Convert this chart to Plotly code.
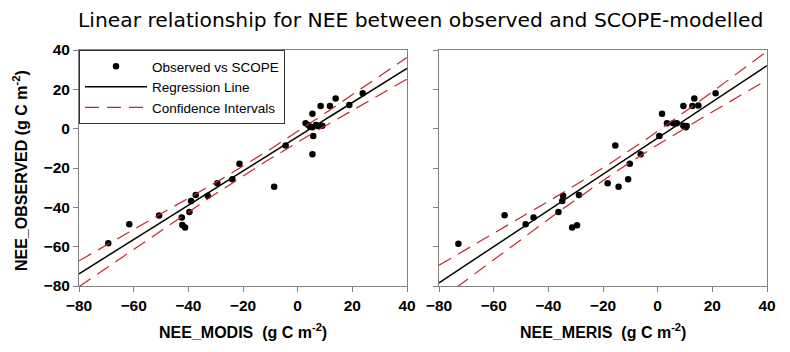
import numpy as np
import plotly.graph_objects as go

# ---- data ----
modis_x = [-69.3, -61.6, -50.7, -42.4, -42.2, -41.2, -39.6, -39.0, -37.3, -32.9,
           -29.4, -23.9, -21.3, -8.6, -4.4, 2.9, 3.9, 4.5, 5.4, 6.7,
           7.4, 9.0, 5.4, 5.7, 5.4, 8.4, 11.8, 13.9, 18.9, 23.8]
modis_obs = [-58.3, -48.6, -44.2, -45.2, -49.0, -50.3, -42.4, -36.8, -33.7, -34.1,
             -27.8, -25.7, -17.8, -29.5, -8.5, 2.7, 1.9, 1.0, 0.7, 1.9,
             1.4, 1.5, 7.6, -3.7, -13.0, 11.5, 11.5, 15.4, 12.0, 18.0]

meris_x = [-72.9, -56.0, -48.3, -45.4, -36.3, -34.6, -34.9, -31.3, -29.5, -28.8,
           -18.3, -15.5, -14.3, -10.8, -10.2, -6.2, 0.6, 1.6, 3.4, 5.7,
           7.0, 9.4, 9.4, 10.3, 10.6, 12.7, 13.4, 14.9, 21.2]
meris_obs = [-58.5, -44.0, -48.6, -45.2, -42.4, -34.1, -36.8, -50.3, -49.1, -33.7,
             -27.8, -8.5, -29.5, -25.7, -17.8, -13.0, -3.7, 7.6, 2.7, 2.7,
             2.7, 11.5, 1.5, 0.7, 1.4, 11.5, 15.4, 11.8, 18.0]

tick_vals = [-80, -60, -40, -20, 0, 20, 40]
axis_range = [-80, 40]
T_CRIT = 2.05  # 95% two-sided t value (n-2 ~ 28 df)

title_text = "Linear relationship for NEE between observed and SCOPE-modelled"
y_title = "NEE_OBSERVED (g C m<sup>-2</sup>)"
x_titles = ["NEE_MODIS  (g C m<sup>-2</sup>)", "NEE_MERIS  (g C m<sup>-2</sup>)"]
legend_names = ["Observed vs SCOPE", "Regression Line", "Confidence Intervals"]


def fit(x, y):
    x = np.asarray(x, float)
    y = np.asarray(y, float)
    n = len(x)
    b, a = np.polyfit(x, y, 1)
    resid = y - (a + b * x)
    s = np.sqrt(np.sum(resid ** 2) / (n - 2))
    xm = x.mean()
    sxx = np.sum((x - xm) ** 2)
    xs = np.linspace(axis_range[0], axis_range[1], 121)
    yh = a + b * xs
    hw = T_CRIT * s * np.sqrt(1.0 / n + (xs - xm) ** 2 / sxx)
    return xs, yh, yh - hw, yh + hw


fig = go.Figure()
RED = "#c0282d"
panels = [(modis_x, modis_obs, "x", "y"), (meris_x, meris_obs, "x2", "y2")]
for i, (px, py, xa, ya) in enumerate(panels):
    xs, yh, lo, hi = fit(px, py)
    show = i == 0
    fig.add_trace(go.Scatter(x=px, y=py, mode="markers", xaxis=xa, yaxis=ya,
                             marker=dict(color="black", size=6.5, symbol="circle"),
                             name=legend_names[0], showlegend=show, legendrank=1))
    fig.add_trace(go.Scatter(x=xs, y=yh, mode="lines", xaxis=xa, yaxis=ya,
                             line=dict(color="black", width=1.5),
                             name=legend_names[1], showlegend=show, legendrank=2))
    fig.add_trace(go.Scatter(x=xs, y=hi, mode="lines", xaxis=xa, yaxis=ya,
                             line=dict(color=RED, width=1.2, dash="14px,8px"),
                             name=legend_names[2], showlegend=show, legendrank=3))
    fig.add_trace(go.Scatter(x=xs, y=lo, mode="lines", xaxis=xa, yaxis=ya,
                             line=dict(color=RED, width=1.2, dash="14px,8px"),
                             name=legend_names[2], showlegend=False))

# page body adds an 8px offset; figure coordinates below are screen px - 8
OFF = 8
W, H = 790 - OFF, 352 - OFF
x1 = [(79 - OFF) / W, (407 - OFF) / W]
x2 = [(439 - OFF) / W, (767 - OFF) / W]
ydom = [(H - (286 - OFF)) / H, (H - (50 - OFF)) / H]

TICKFONT = dict(family="Liberation Sans, Arial", size=15.5, color="black", weight="bold")
TITLEFONT = dict(family="Liberation Sans, Arial", size=16, color="black", weight="bold")

common = dict(range=axis_range, tickvals=tick_vals, showgrid=False, zeroline=False,
              showline=True, linecolor="#808080", linewidth=1, mirror=True,
              ticks="outside", ticklen=5, tickcolor="#808080", tickfont=TICKFONT,
              automargin=False)

fig.update_layout(
    width=W, height=H,
    margin=dict(l=0, r=0, t=0, b=0, autoexpand=False),
    paper_bgcolor="white", plot_bgcolor="white",
    showlegend=True,
    legend=dict(x=x1[0], y=ydom[1], xanchor="left", yanchor="top",
                bgcolor="white", bordercolor="#333333", borderwidth=1,
                font=dict(family="Liberation Sans, Arial", size=13.5, color="black"),
                tracegroupgap=0, itemwidth=62),
    xaxis=dict(domain=x1, anchor="y", **common),
    yaxis=dict(domain=ydom, anchor="x", **common),
    xaxis2=dict(domain=x2, anchor="y2", **common),
    yaxis2=dict(domain=ydom, anchor="x2", showticklabels=False, **common),
    annotations=[
        dict(text=title_text, x=(76 - OFF) / W, y=1 - (34 - OFF) / H, xref="paper",
             yref="paper", xanchor="left", yanchor="bottom", showarrow=False,
             font=dict(family="DejaVu Sans, Verdana", size=20.3, color="black")),
        dict(text=y_title, x=(20 - OFF) / W, y=(H - (171 - OFF)) / H, xref="paper",
             yref="paper", textangle=-90, xanchor="center", yanchor="middle",
             showarrow=False, font=TITLEFONT),
        dict(text=x_titles[0], x=(x1[0] + x1[1]) / 2, y=1 - (331 - OFF) / H,
             xref="paper", yref="paper", xanchor="center", yanchor="middle",
             showarrow=False, font=TITLEFONT),
        dict(text=x_titles[1], x=(x2[0] + x2[1]) / 2, y=1 - (331 - OFF) / H,
             xref="paper", yref="paper", xanchor="center", yanchor="middle",
             showarrow=False, font=TITLEFONT),
    ],
)

fig.write_html("out.html")
